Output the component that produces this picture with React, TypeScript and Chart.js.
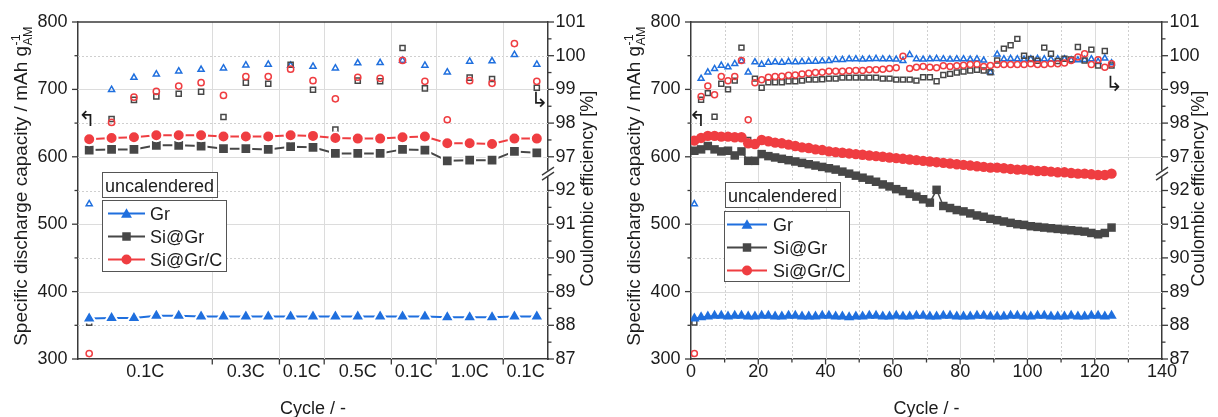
import React, { useEffect, useRef } from 'react';
import { Chart, registerables } from 'chart.js';

Chart.register(...registerables);

// ---------------- Left panel: rate test ----------------
const ratePoint = [1, 2, 3, 4, 5, 6, 7, 8, 9, 10, 11, 12, 13, 14, 15, 16, 17, 18, 19, 20, 21];
const rateSectionLabels = ['0.1C', '0.3C', '0.1C', '0.5C', '0.1C', '1.0C', '0.1C'];
const rateSectionCenters = [3.5, 8, 10.5, 13, 15.5, 18, 20.5];
const rateSectionBounds = [6.5, 9.5, 11.5, 14.5, 16.5, 19.5];

const rateCapGr = [360, 361, 361, 364, 364, 363, 363, 363, 363, 363, 363, 363, 363, 363, 363, 363, 362, 362, 362, 363, 363];
const rateCapSiGr = [610, 611, 611, 617, 617, 616, 612, 612, 611, 615, 614, 605, 605, 605, 611, 610, 594, 595, 595, 608, 606];
const rateCapSiGrC = [626, 628, 629, 632, 632, 632, 630, 630, 630, 632, 631, 628, 627, 627, 629, 630, 620, 620, 619, 627, 627];

const rateCeGr = [91.6, 98.99, 99.35, 99.45, 99.54, 99.59, 99.63, 99.72, 99.74, 99.71, 99.68, 99.63, 99.78, 99.79, 99.86, 99.71, 99.51, 99.83, 99.84, 100.03, 99.74];
const rateCeSiGr = [88.08, 98.12, 98.69, 98.79, 98.87, 98.93, 98.18, 99.2, 99.17, 99.73, 98.99, 97.81, 99.26, 99.24, 100.23, 99.03, 97.45, 99.35, 99.31, 101.3, 99.05];
const rateCeSiGrC = [87.16, 98.02, 98.77, 98.94, 99.1, 99.2, 98.82, 99.38, 99.38, 99.6, 99.26, 98.72, 99.36, 99.33, 99.86, 99.24, 98.1, 99.26, 99.18, 100.36, 99.24];

// ---------------- Right panel: long-term cycling ----------------
const cycles = [
  1, 3, 5, 7, 9, 11, 13, 15, 17, 19,
  21, 23, 25, 27, 29, 31, 33, 35, 37, 39,
  41, 43, 45, 47, 49, 51, 53, 55, 57, 59,
  61, 63, 65, 67, 69, 71, 73, 75, 77, 79,
  81, 83, 85, 87, 89, 91, 93, 95, 97, 99,
  101, 103, 105, 107, 109, 111, 113, 115, 117, 119,
  121, 123, 125,
];
const cycCapGr = [
  360, 362, 363, 364, 364, 363, 364, 364, 363, 363,
  364, 364, 363, 363, 364, 364, 363, 363, 363, 364,
  364, 363, 363, 362, 363, 363, 364, 364, 363, 363,
  364, 363, 363, 364, 364, 363, 363, 364, 364, 363,
  363, 363, 364, 364, 363, 363, 363, 364, 364, 363,
  363, 364, 364, 363, 363, 363, 364, 363, 363, 364,
  364, 363, 364,
];
const cycCapSiGr = [
  609, 611, 616, 611, 608, 609, 602, 608, 594, 594,
  604, 601, 599, 597, 595, 593, 591, 589, 587, 585,
  583, 581, 578, 575, 572, 569, 566, 563, 559, 556,
  552, 549, 545, 541, 537, 532, 551, 527, 524, 521,
  519, 516, 513, 511, 508, 506, 504, 502, 500, 499,
  497, 496, 495, 494, 493, 492, 491, 490, 489, 487,
  485, 487, 495,
];
const cycCapSiGrC = [
  624, 628, 631, 631, 630, 630, 629, 629, 620, 619,
  625, 623, 621, 620, 618, 616, 614, 613, 611, 610,
  608, 607, 606, 605, 604, 603, 602, 601, 600, 599,
  598, 597, 596, 595, 594, 593, 592, 591, 590, 589,
  588, 587, 586, 585, 584, 584, 583, 582, 581, 581,
  580, 579, 579, 578, 577, 577, 576, 575, 575, 574,
  573, 573, 575,
];
const cycCeGr = [
  91.6, 99.32, 99.51, 99.61, 99.71, 99.66, 99.76, 99.84, 99.51, 99.81,
  99.74, 99.8, 99.81, 99.8, 99.82, 99.81, 99.82, 99.83, 99.83, 99.84,
  99.85, 99.88, 99.88, 99.9, 99.9, 99.89, 99.9, 99.91, 99.9, 99.9,
  99.89, 99.85, 100.03, 99.9, 99.89, 99.9, 99.91, 99.9, 99.89, 99.9,
  99.9, 99.89, 99.9, 99.86, 99.51, 100.04, 99.9, 99.91, 99.9, 99.89,
  99.9, 99.91, 99.9, 99.89, 99.9, 99.9, 99.87, 99.87, 99.88, 99.9,
  99.82, 99.92, 99.78,
];
const cycCeSiGr = [
  88.08, 98.69, 98.89, 98.19, 99.17, 99.0, 99.26, 100.24, 97.5, 99.32,
  99.05, 99.21, 99.21, 99.21, 99.24, 99.24, 99.26, 99.29, 99.29, 99.3,
  99.32, 99.32, 99.35, 99.35, 99.35, 99.35, 99.35, 99.35, 99.32, 99.32,
  99.29, 99.29, 99.29, 99.26, 99.36, 99.36, 99.24, 99.43, 99.46, 99.5,
  99.53, 99.56, 99.58, 99.56, 99.51, 99.86, 100.21, 100.31, 100.5, 100.0,
  99.9, 99.85, 100.24, 100.06, 99.84, 99.91, 99.89, 100.26, 99.86, 100.18,
  99.71, 100.14, 99.71,
];
const cycCeSiGrC = [
  87.16, 98.79, 99.1, 98.84, 99.38, 99.26, 99.38, 99.86, 98.1, 99.2,
  99.29, 99.36, 99.38, 99.39, 99.42, 99.43, 99.46, 99.48, 99.5, 99.51,
  99.54, 99.54, 99.54, 99.55, 99.56, 99.56, 99.58, 99.58, 99.6, 99.62,
  99.64, 99.98, 99.62, 99.66, 99.68, 99.66, 99.64, 99.7, 99.68, 99.7,
  99.72, 99.74, 99.75, 99.68, 99.71, 99.74, 99.74, 99.74, 99.74, 99.74,
  99.76, 99.74, 99.74, 99.76, 99.76, 99.78, 99.86, 99.96, 100.06, 99.74,
  99.88, 99.66, 99.76,
];

const seriesNames = ['Gr', 'Si@Gr', 'Si@Gr/C'];

// ---------------- styling ----------------
const W = 609;
const H = 417;
const FONT = '"Liberation Sans", Arial, Helvetica, sans-serif';
const TEXT = '#1c1c1c';
const AXIS = '#3a3a3a';
const GRID = '#dcdcdc';
const GRID_DOT = '#cfcfcf';
const BLUE = '#1f6fde';
const GRAY = '#474747';
const RED = '#ef3d41';
const COLORS = [BLUE, GRAY, RED];
const STYLES = ['triangle', 'rect', 'circle'];

// broken right axis: 87..92 kept, 97..101 shifted down by 4
const ceToAxis = (v: number) => (v >= 94.5 ? v - 4 : v);
const axisToCe = (t: number) => (t <= 92 ? t : t + 4);

function line(ctx: CanvasRenderingContext2D, x1: number, y1: number, x2: number, y2: number, color: string, w: number, dash: number[] = []) {
  ctx.beginPath();
  ctx.setLineDash(dash);
  ctx.strokeStyle = color;
  ctx.lineWidth = w;
  ctx.moveTo(x1, y1);
  ctx.lineTo(x2, y2);
  ctx.stroke();
  ctx.setLineDash([]);
}

function marker(ctx: CanvasRenderingContext2D, style: string, x: number, y: number, r: number, fill: string) {
  ctx.beginPath();
  if (style === 'circle') ctx.arc(x, y, r, 0, Math.PI * 2);
  else if (style === 'rect') {
    const s = r * Math.SQRT1_2;
    ctx.rect(x - s, y - s, 2 * s, 2 * s);
  } else {
    ctx.moveTo(x, y - r);
    ctx.lineTo(x + r * 0.866, y + r * 0.5);
    ctx.lineTo(x - r * 0.866, y + r * 0.5);
    ctx.closePath();
  }
  ctx.fillStyle = fill;
  ctx.fill();
}

function makePlugin(cfg: any) {
  return {
    id: 'decor',
    beforeDatasetsDraw(chart: any) {
      const { ctx, chartArea: a, scales } = chart;
      const ys = scales.y;
      const xs = scales.x;
      ctx.save();
      for (let v = 350; v < 800; v += 100) {
        const p = Math.round(ys.getPixelForValue(v)) + 0.5;
        line(ctx, a.left, p, a.right, p, GRID_DOT, 1, [2, 2]);
      }
      for (let v = 400; v < 800; v += 100) {
        const p = Math.round(ys.getPixelForValue(v)) + 0.5;
        line(ctx, a.left, p, a.right, p, GRID, 1);
      }
      for (const v of cfg.vDotted) {
        const p = Math.round(xs.getPixelForValue(v)) + 0.5;
        line(ctx, p, a.top, p, a.bottom, GRID_DOT, 1, [2, 2]);
      }
      for (const v of cfg.vSolid) {
        const p = Math.round(xs.getPixelForValue(v)) + 0.5;
        line(ctx, p, a.top, p, a.bottom, GRID, 1);
      }
      ctx.restore();
    },
    afterDatasetsDraw(chart: any) {
      const { ctx, chartArea: a, scales } = chart;
      const ys = scales.y;
      const y2s = scales.y2;
      const xs = scales.x;
      ctx.save();
      // frame top
      line(ctx, a.left, a.top, a.right, a.top, AXIS, 1.5);
      // ticks
      for (let v = 300; v <= 800; v += 50) {
        const p = ys.getPixelForValue(v);
        line(ctx, a.left - (v % 100 === 0 ? 6 : 3.5), p, a.left, p, AXIS, 1.3);
      }
      for (let t = 87; t <= 97; t += 0.5) {
        if (t === 92.5) continue;
        const p = y2s.getPixelForValue(t);
        line(ctx, a.right, p, a.right + (Number.isInteger(t) ? 6 : 3.5), p, AXIS, 1.3);
      }
      for (const v of cfg.xMajor) {
        const p = xs.getPixelForValue(v);
        line(ctx, p, a.bottom, p, a.bottom + 5.5, AXIS, 1.3);
      }
      for (const v of cfg.xMinor) {
        const p = xs.getPixelForValue(v);
        line(ctx, p, a.bottom, p, a.bottom + 3.5, AXIS, 1.3);
      }
      // axis break on right axis
      const by = y2s.getPixelForValue(92.5);
      ctx.fillStyle = '#ffffff';
      ctx.fillRect(a.right - 2, by - 3, 4, 6);
      line(ctx, a.right - 6, by + 1.5, a.right + 6, by - 6.5, AXIS, 1.3);
      line(ctx, a.right - 6, by + 6.5, a.right + 6, by - 1.5, AXIS, 1.3);

      // stamp box
      const st = cfg.stamp;
      ctx.fillStyle = '#ffffff';
      ctx.fillRect(st.x, st.y, st.w, st.h);
      ctx.strokeStyle = '#555555';
      ctx.lineWidth = 1;
      ctx.strokeRect(st.x + 0.5, st.y + 0.5, st.w, st.h);
      ctx.font = `18px ${FONT}`;
      ctx.fillStyle = TEXT;
      ctx.textAlign = 'left';
      ctx.textBaseline = 'alphabetic';
      ctx.fillText('uncalendered', st.x + 3, st.y + 19.5);

      // legend box
      const lg = cfg.legend;
      ctx.fillStyle = '#ffffff';
      ctx.fillRect(lg.x, lg.y, lg.w, lg.h);
      ctx.strokeStyle = '#555555';
      ctx.strokeRect(lg.x + 0.5, lg.y + 0.5, lg.w, lg.h);
      seriesNames.forEach((name, i) => {
        const ry = lg.y + 13.5 + i * 23;
        line(ctx, lg.lineX1, ry, lg.lineX2, ry, COLORS[i], 2);
        const mr = STYLES[i] === 'circle' ? 5 : STYLES[i] === 'rect' ? 6 : 6.3;
        marker(ctx, STYLES[i], (lg.lineX1 + lg.lineX2) / 2, ry + (STYLES[i] === 'triangle' ? 1 : 0), mr, COLORS[i]);
        ctx.fillStyle = TEXT;
        ctx.font = `18px ${FONT}`;
        ctx.fillText(name, lg.textX, ry + 6.5);
      });

      // arrows
      ctx.font = `21px "DejaVu Sans", sans-serif`;
      ctx.textAlign = 'center';
      ctx.textBaseline = 'middle';
      ctx.fillStyle = TEXT;
      ctx.fillText('\u21B0', cfg.arrowL[0], cfg.arrowL[1]);
      ctx.fillText('\u21B3', cfg.arrowR[0], cfg.arrowR[1]);

      // axis titles
      const cy = (a.top + a.bottom) / 2;
      ctx.textAlign = 'left';
      ctx.textBaseline = 'alphabetic';
      ctx.save();
      ctx.translate(cfg.yTitleBase, cy - 4);
      ctx.rotate(-Math.PI / 2);
      const main = 'Specific discharge capacity / mAh g';
      ctx.font = `19px ${FONT}`;
      const mw = ctx.measureText(main).width;
      ctx.font = `12.5px ${FONT}`;
      const sw = Math.max(ctx.measureText('-1').width, ctx.measureText('AM').width);
      const x0 = -(mw + sw) / 2;
      ctx.font = `19px ${FONT}`;
      ctx.fillText(main, x0, 0);
      ctx.font = `12.5px ${FONT}`;
      ctx.fillText('-1', x0 + mw + 0.5, -7.5);
      ctx.fillText('AM', x0 + mw + 0.5, 5);
      ctx.restore();

      ctx.save();
      ctx.translate(cfg.y2TitleBase, cy - 2);
      ctx.rotate(-Math.PI / 2);
      ctx.font = `18px ${FONT}`;
      ctx.textAlign = 'center';
      ctx.fillText('Coulombic efficiency [%]', 0, 0);
      ctx.restore();

      ctx.font = `18px ${FONT}`;
      ctx.textAlign = 'center';
      ctx.fillText('Cycle / -', (a.left + a.right) / 2, 413.5);
      ctx.restore();
    },
  };
}

function buildChart(canvas: HTMLCanvasElement, cfg: any) {
  const a = cfg.area;
  const capSeries = [cfg.capGr, cfg.capSiGr, cfg.capSiGrC];
  const ceSeries = [cfg.ceGr, cfg.ceSiGr, cfg.ceSiGrC];
  const datasets: any[] = [];
  capSeries.forEach((vals: number[], i: number) => {
    const st = STYLES[i];
    datasets.push({
      label: seriesNames[i],
      data: cfg.x.map((xv: number, j: number) => ({ x: xv, y: vals[j] })),
      yAxisID: 'y',
      showLine: true,
      borderColor: COLORS[i],
      borderWidth: cfg.gap ? 2 : 1.5,
      pointStyle: st,
      pointRadius: cfg.capR[st],
      pointBackgroundColor: COLORS[i],
      pointBorderColor: cfg.gap ? '#ffffff' : COLORS[i],
      pointBorderWidth: cfg.gap ? 2 : 0,
      order: 2 - i,
    });
  });
  ceSeries.forEach((vals: number[], i: number) => {
    const st = STYLES[i];
    datasets.push({
      label: seriesNames[i] + ' CE',
      data: cfg.x.map((xv: number, j: number) => ({ x: xv, y: ceToAxis(vals[j]) })),
      yAxisID: 'y2',
      showLine: false,
      pointStyle: st,
      pointRadius: cfg.ceR[st],
      pointBackgroundColor: 'rgba(255,255,255,0)',
      pointBorderColor: COLORS[i],
      pointBorderWidth: 1.5,
      order: 5 - i,
    });
  });

  const tickFont = { family: FONT, size: 18 };
  const xScale: any = {
    type: 'linear',
    position: 'bottom',
    min: cfg.xMin,
    max: cfg.xMax,
    grid: { display: true, drawOnChartArea: false, drawTicks: false },
    border: { display: true, color: AXIS, width: 1.5 },
    ticks: { font: tickFont, color: TEXT, padding: 2, autoSkip: false, maxRotation: 0, minRotation: 0 },
    afterFit: (s: any) => { s.height = H - a.bottom; },
  };
  if (cfg.xLabelValues) {
    xScale.afterBuildTicks = (s: any) => { s.ticks = cfg.xLabelValues.map((v: number) => ({ value: v })); };
    xScale.ticks.callback = (_v: any, i: number) => cfg.xLabelText[i];
  } else {
    xScale.ticks.stepSize = cfg.xStep;
  }

  return new Chart(canvas, {
    type: 'scatter',
    data: { datasets },
    plugins: [makePlugin(cfg)],
    options: {
      responsive: false,
      animation: false,
      devicePixelRatio: 1,
      events: [],
      layout: { padding: { top: a.top, left: 0, right: 0, bottom: 0 } },
      plugins: { legend: { display: false }, tooltip: { enabled: false } },
      scales: {
        x: xScale,
        y: {
          type: 'linear',
          position: 'left',
          min: 300,
          max: 800,
          grid: { display: true, drawOnChartArea: false, drawTicks: false },
          border: { display: true, color: AXIS, width: 1.5 },
          ticks: { stepSize: 100, font: tickFont, color: TEXT, padding: 10.5 },
          afterFit: (s: any) => { s.width = a.left; },
        },
        y2: {
          type: 'linear',
          position: 'right',
          min: 87,
          max: 97,
          grid: { display: true, drawOnChartArea: false, drawTicks: false },
          border: { display: true, color: AXIS, width: 1.5 },
          ticks: { stepSize: 1, font: tickFont, color: TEXT, padding: 7.5, callback: (v: any) => String(axisToCe(Number(v))) },
          afterFit: (s: any) => { s.width = W - a.right; },
        },
      },
    } as any,
  });
}

const leftCfg = {
  area: { left: 78, right: 548, top: 22, bottom: 359 },
  x: ratePoint,
  capGr: rateCapGr, capSiGr: rateCapSiGr, capSiGrC: rateCapSiGrC,
  ceGr: rateCeGr, ceSiGr: rateCeSiGr, ceSiGrC: rateCeSiGrC,
  xMin: 0.5, xMax: 21.5,
  xLabelValues: rateSectionCenters, xLabelText: rateSectionLabels,
  xMajor: rateSectionBounds, xMinor: [],
  vSolid: rateSectionBounds, vDotted: [],
  gap: true,
  capR: { triangle: 8, rect: 7.6, circle: 6 },
  ceR: { triangle: 3.5, rect: 3.6, circle: 3.1 },
  stamp: { x: 102, y: 172, w: 115, h: 25 },
  legend: { x: 102, y: 200, w: 124, h: 71, lineX1: 108, lineX2: 145, textX: 150 },
  arrowL: [87, 121], arrowR: [539.5, 101.5],
  yTitleBase: 27, y2TitleBase: 593,
};

const rightCfg = {
  area: { left: 82, right: 553, top: 22, bottom: 359 },
  x: cycles,
  capGr: cycCapGr, capSiGr: cycCapSiGr, capSiGrC: cycCapSiGrC,
  ceGr: cycCeGr, ceSiGr: cycCeSiGr, ceSiGrC: cycCeSiGrC,
  xMin: 0, xMax: 140, xStep: 20,
  xMajor: [20, 40, 60, 80, 100, 120], xMinor: [10, 30, 50, 70, 90, 110, 130],
  vSolid: [20, 40, 60, 80, 100, 120], vDotted: [10, 30, 50, 70, 90, 110, 130],
  gap: false,
  capR: { triangle: 6, rect: 6, circle: 5.2 },
  ceR: { triangle: 3.4, rect: 3.5, circle: 3 },
  stamp: { x: 116, y: 182, w: 115, h: 25 },
  legend: { x: 115, y: 211, w: 125, h: 70, lineX1: 118, lineX2: 158, textX: 164 },
  arrowL: [88.5, 121], arrowR: [505, 86],
  yTitleBase: 31, y2TitleBase: 595,
};

function Panel({ cfg }: { cfg: any }) {
  const ref = useRef<HTMLCanvasElement | null>(null);
  useEffect(() => {
    if (!ref.current) return;
    const chart = buildChart(ref.current, cfg);
    return () => chart.destroy();
  }, [cfg]);
  return <canvas ref={ref} width={W} height={H} style={{ display: 'block', width: W, height: H }} />;
}

export default function App() {
  return (
    <div style={{ position: 'fixed', left: 0, top: 0, width: 1218, height: 417, display: 'flex', background: '#ffffff' }}>
      <Panel cfg={leftCfg} />
      <Panel cfg={rightCfg} />
    </div>
  );
}
